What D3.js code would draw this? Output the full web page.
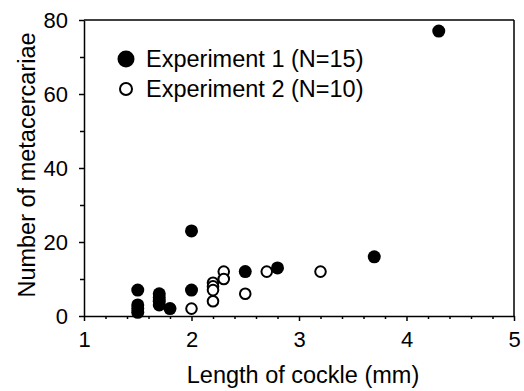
<!DOCTYPE html>
<html>
<head>
<meta charset="utf-8">
<script src="https://cdn.jsdelivr.net/npm/d3@7"></script>
<style>
  body { margin: 0; background: #fff; }
  svg text { font-family: "Liberation Sans", Arial, sans-serif; fill: #000; }
</style>
</head>
<body>
<div id="chartArea"></div>
<script>
// experiment 1 (filled) and experiment 2 (open): cockle length (mm), metacercariae count
var exp1Length = [1.5, 1.5, 1.5, 1.5, 1.7, 1.7, 1.7, 1.7, 1.8, 2.0, 2.0, 2.5, 2.8, 3.7, 4.3];
var exp1Count  = [7, 3, 2, 1, 6, 5, 4, 3, 2, 23, 7, 12, 13, 16, 77];
var exp2Length = [2.0, 2.2, 2.2, 2.2, 2.2, 2.3, 2.3, 2.5, 2.7, 3.2];
var exp2Count  = [2, 9, 8, 7, 4, 12, 10, 6, 12, 12];

var xTicks = [1, 2, 3, 4, 5];
var yTicks = [0, 20, 40, 60, 80];
var legendLabels = ['Experiment 1 (N=15)', 'Experiment 2 (N=10)'];

var w = 524, h = 391;
var mLeft = 84, mRight = 514, mTop = 20, mBottom = 316;

var svg = d3.select('#chartArea').append('svg')
    .attr('width', w)
    .attr('height', h);

var xScale = d3.scaleLinear().domain([1, 5]).range([mLeft, mRight]);
var yScale = d3.scaleLinear().domain([0, 80]).range([mBottom, mTop]);

var exp1 = exp1Length.map(function (d, i) { return [d, exp1Count[i]]; });
var exp2 = exp2Length.map(function (d, i) { return [d, exp2Count[i]]; });

// minor ticks
var xMinor = d3.range(1, 5.001, 0.2).filter(function (d) { return Math.abs(d - Math.round(d)) > 0.01; });
var yMinor = [10, 30, 50, 70];

svg.append('g')
    .attr('transform', 'translate(0,' + mBottom + ')')
    .call(d3.axisBottom(xScale).tickValues(xMinor).tickSize(3).tickFormat(''))
    .call(function (g) { g.select('.domain').remove(); });

svg.append('g')
    .attr('transform', 'translate(' + mLeft + ',0)')
    .call(d3.axisLeft(yScale).tickValues(yMinor).tickSize(4).tickFormat(''))
    .call(function (g) { g.select('.domain').remove(); });

var xAxis = svg.append('g')
    .attr('transform', 'translate(0,' + mBottom + ')')
    .call(d3.axisBottom(xScale).tickValues(xTicks).tickSize(5).tickPadding(10).tickSizeOuter(0).tickFormat(d3.format('d')));
xAxis.selectAll('text').attr('font-size', 22).style('font-size', '22px');

var yAxis = svg.append('g')
    .attr('transform', 'translate(' + mLeft + ',0)')
    .call(d3.axisLeft(yScale).tickValues(yTicks).tickSize(5).tickPadding(11).tickSizeOuter(0));
yAxis.selectAll('text').attr('font-size', 22).style('font-size', '22px');

svg.selectAll('.domain').attr('stroke-width', 1.5);
svg.selectAll('.tick line').attr('stroke-width', 1.5);

// frame top and right
svg.append('line').attr('x1', mLeft).attr('x2', mRight).attr('y1', mTop).attr('y2', mTop)
    .attr('stroke', '#000').attr('stroke-width', 1.5);
svg.append('line').attr('x1', mRight).attr('x2', mRight).attr('y1', mTop).attr('y2', mBottom)
    .attr('stroke', '#000').attr('stroke-width', 1.5);

// points: open first, filled on top
svg.selectAll('circle.exp2')
    .data(exp2)
    .enter()
    .append('circle')
    .attr('class', 'exp2')
    .attr('cx', function (d) { return xScale(d[0]); })
    .attr('cy', function (d) { return yScale(d[1]); })
    .attr('r', 5.3)
    .attr('fill', '#fff')
    .attr('stroke', '#000')
    .attr('stroke-width', 2);

svg.selectAll('circle.exp1')
    .data(exp1)
    .enter()
    .append('circle')
    .attr('class', 'exp1')
    .attr('cx', function (d) { return xScale(d[0]); })
    .attr('cy', function (d) { return yScale(d[1]); })
    .attr('r', 6.5)
    .attr('fill', '#000');

// legend
var legend = svg.append('g');
legend.append('circle').attr('cx', 126).attr('cy', 59).attr('r', 8.5).attr('fill', '#000');
legend.append('circle').attr('cx', 126).attr('cy', 89).attr('r', 6)
    .attr('fill', '#fff').attr('stroke', '#000').attr('stroke-width', 2);
legend.selectAll('text')
    .data(legendLabels)
    .enter()
    .append('text')
    .attr('x', 146)
    .attr('y', function (d, i) { return 67 + i * 30; })
    .style('font-size', '23.5px')
    .text(function (d) { return d; });

// axis titles
svg.append('text')
    .attr('x', 303)
    .attr('y', 383)
    .attr('text-anchor', 'middle')
    .style('font-size', '23.5px')
    .text('Length of cockle (mm)');

svg.append('text')
    .attr('transform', 'translate(35,165) rotate(-90)')
    .attr('text-anchor', 'middle')
    .style('font-size', '23.5px')
    .text('Number of metacercariae');
</script>
</body>
</html>
